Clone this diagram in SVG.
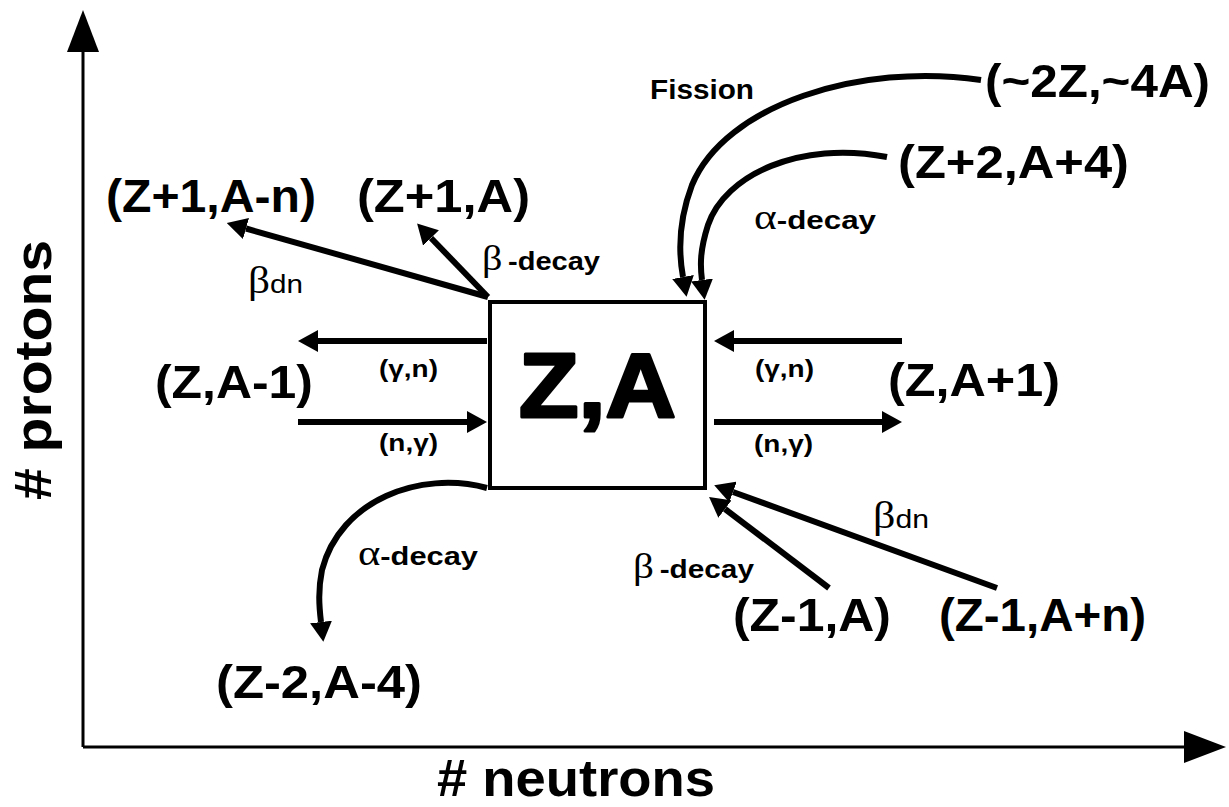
<svg xmlns="http://www.w3.org/2000/svg" width="1229" height="807" viewBox="0 0 1229 807">
<style>
  .lbl{font-family:"Liberation Sans",Arial,sans-serif;font-weight:bold;font-size:47px;fill:#000}
  .sm{font-family:"Liberation Sans",Arial,sans-serif;font-weight:bold;font-size:26px;fill:#000}
  .rx{font-family:"Liberation Sans",Arial,sans-serif;font-weight:bold;font-size:24px;fill:#000}
  .gr{font-family:"Liberation Serif","DejaVu Serif",serif;font-weight:normal}
  .dn{font-weight:normal}
  .ax{font-family:"Liberation Sans",Arial,sans-serif;font-weight:bold;font-size:52px;fill:#000}
  .ln{fill:none;stroke:#000;stroke-width:6}
  .axis{fill:none;stroke:#000;stroke-width:3}
</style>
<defs>
  <marker id="ah" markerUnits="userSpaceOnUse" markerWidth="20" markerHeight="22" refX="0" refY="11" orient="auto" viewBox="0 0 20 22">
    <path d="M0,0 L20,11 L0,22 z" fill="#000"/>
  </marker>
</defs>
<rect x="0" y="0" width="1229" height="807" fill="#fff"/>

<g id="axes">
  <line class="axis" x1="83" y1="747" x2="83" y2="50"/>
  <polygon points="83,10 67,52 99,52" fill="#000"/>
  <line class="axis" x1="83" y1="747" x2="1186" y2="747"/>
  <polygon points="1226,747 1184,731 1184,763" fill="#000"/>
  <text class="ax" x="437" y="796" textLength="278" lengthAdjust="spacingAndGlyphs"># neutrons</text>
  <text class="ax" transform="translate(51,370) rotate(-90)" text-anchor="middle" textLength="260" lengthAdjust="spacingAndGlyphs"># protons</text>
</g>

<g id="connectors">
  <line class="ln" x1="487" y1="341" x2="318" y2="341" marker-end="url(#ah)"/>
  <line class="ln" x1="298" y1="422" x2="467" y2="422" marker-end="url(#ah)"/>
  <line class="ln" x1="902" y1="341" x2="734" y2="341" marker-end="url(#ah)"/>
  <line class="ln" x1="714" y1="422" x2="882" y2="422" marker-end="url(#ah)"/>
  <line class="ln" x1="488" y1="297" x2="246" y2="228.5" marker-end="url(#ah)"/>
  <line class="ln" x1="488" y1="297" x2="431" y2="238" marker-end="url(#ah)"/>
  <line class="ln" x1="829" y1="588" x2="725" y2="509" marker-end="url(#ah)"/>
  <line class="ln" x1="997" y1="588" x2="733" y2="492" marker-end="url(#ah)"/>
  <path class="ln" d="M981,80 C860,62 725,105 692,185 C678,222 679,255 683,277" marker-end="url(#ah)"/>
  <path class="ln" d="M887,157 C800,140 725,175 708,225 C700,250 700,265 702,280" marker-end="url(#ah)"/>
  <path class="ln" d="M487,488 C420,470 340,500 322,570 C318,590 319,605 321,622" marker-end="url(#ah)"/>
</g>

<g id="node-ZA">
  <rect x="490" y="302" width="215" height="186" fill="#fff" stroke="#000" stroke-width="4"/>
  <text class="lbl" x="519" y="417" style="font-size:90px;stroke:#000;stroke-width:3;stroke-linejoin:round" textLength="157" lengthAdjust="spacingAndGlyphs">Z,A</text>
</g>
<g id="node-Zp1-Amn"><text class="lbl" x="106" y="212" textLength="210" lengthAdjust="spacingAndGlyphs">(Z+1,A-n)</text></g>
<g id="node-Zp1-A"><text class="lbl" x="357" y="212" textLength="173" lengthAdjust="spacingAndGlyphs">(Z+1,A)</text></g>
<g id="node-2Z-4A"><text class="lbl" x="985" y="97" textLength="225" lengthAdjust="spacingAndGlyphs">(~2Z,~4A)</text></g>
<g id="node-Zp2-Ap4"><text class="lbl" x="898" y="178" textLength="231" lengthAdjust="spacingAndGlyphs">(Z+2,A+4)</text></g>
<g id="node-Z-Am1"><text class="lbl" x="155" y="398" textLength="158" lengthAdjust="spacingAndGlyphs">(Z,A-1)</text></g>
<g id="node-Z-Ap1"><text class="lbl" x="888" y="396" textLength="172" lengthAdjust="spacingAndGlyphs">(Z,A+1)</text></g>
<g id="node-Zm2-Am4"><text class="lbl" x="216" y="698" textLength="206" lengthAdjust="spacingAndGlyphs">(Z-2,A-4)</text></g>
<g id="node-Zm1-A"><text class="lbl" x="733" y="631" textLength="158" lengthAdjust="spacingAndGlyphs">(Z-1,A)</text></g>
<g id="node-Zm1-Apn"><text class="lbl" x="939" y="631" textLength="207" lengthAdjust="spacingAndGlyphs">(Z-1,A+n)</text></g>

<g id="labels">
  <text class="sm" x="650" y="99" style="font-size:28px" textLength="104" lengthAdjust="spacingAndGlyphs">Fission</text>
  <text class="sm" x="754" y="229" textLength="122" lengthAdjust="spacingAndGlyphs"><tspan class="gr" style="font-size:36px">α</tspan>-decay</text>
  <text class="sm" x="482" y="270" textLength="118" lengthAdjust="spacingAndGlyphs"><tspan class="gr" style="font-size:36px">β</tspan><tspan dx="5">-decay</tspan></text>
  <text class="sm" x="248" y="293" textLength="55" lengthAdjust="spacingAndGlyphs"><tspan class="gr" style="font-size:38px">β</tspan><tspan class="dn">dn</tspan></text>
  <text class="sm" x="358" y="565" textLength="120" lengthAdjust="spacingAndGlyphs"><tspan class="gr" style="font-size:36px">α</tspan>-decay</text>
  <text class="sm" x="633" y="578" textLength="121" lengthAdjust="spacingAndGlyphs"><tspan class="gr" style="font-size:36px">β</tspan><tspan dx="5">-decay</tspan></text>
  <text class="sm" x="873" y="528" textLength="56" lengthAdjust="spacingAndGlyphs"><tspan class="gr" style="font-size:38px">β</tspan><tspan class="dn">dn</tspan></text>
  <text class="rx" x="379" y="377" textLength="59" lengthAdjust="spacingAndGlyphs">(γ,n)</text>
  <text class="rx" x="379" y="451" textLength="59" lengthAdjust="spacingAndGlyphs">(n,γ)</text>
  <text class="rx" x="755" y="377" textLength="59" lengthAdjust="spacingAndGlyphs">(γ,n)</text>
  <text class="rx" x="754" y="452" textLength="59" lengthAdjust="spacingAndGlyphs">(n,γ)</text>
</g>
</svg>
